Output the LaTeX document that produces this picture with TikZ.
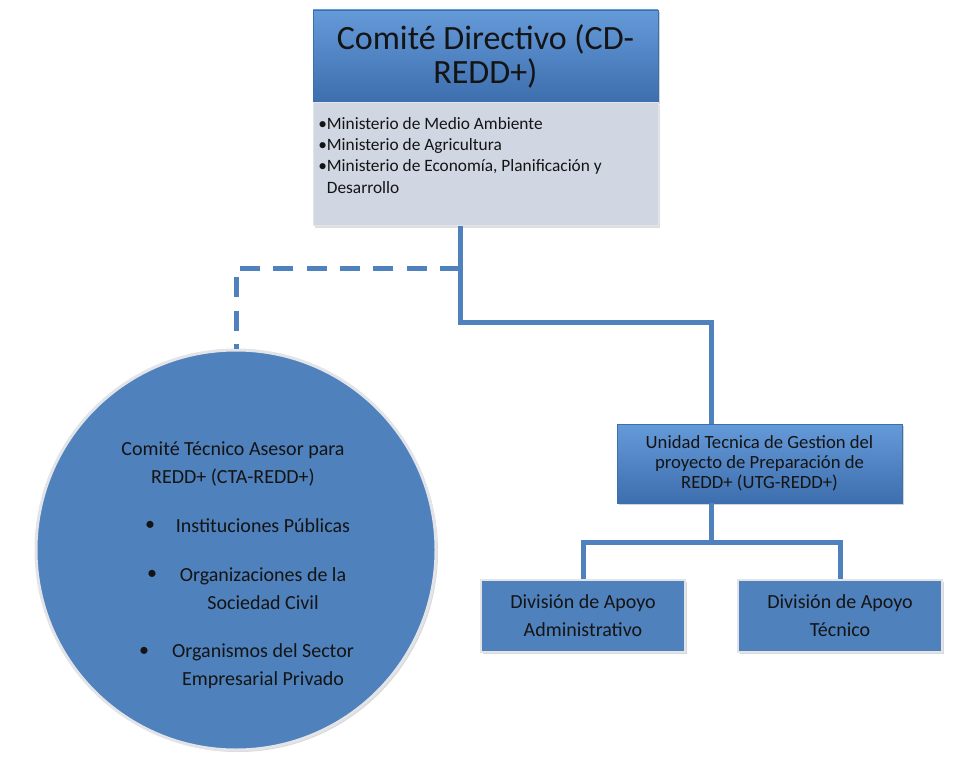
\documentclass[tikz,border=0pt]{standalone}
\usepackage{fontspec}
\setmainfont{Carlito}
\usetikzlibrary{positioning,shadows,calc}
\definecolor{ReddBlue}{HTML}{4F81BD}
\definecolor{ReddBlueLight}{HTML}{659AD9}
\definecolor{ReddBlueDark}{HTML}{3D6EAE}
\definecolor{ReddGray}{HTML}{D0D6E2}
\definecolor{ReddRim}{HTML}{E2E4E8}
\definecolor{ReddInk}{HTML}{141414}

\begin{document}
\begin{tikzpicture}[x=0.75pt,y=-0.75pt,
      text=ReddInk,
      bevel/.style={draw=ReddBlueDark,top color=ReddBlueLight,bottom color=ReddBlueDark,
        drop shadow={opacity=0.35,shadow xshift=1.5pt,shadow yshift=-1.5pt},align=center,inner sep=0pt},
      flatbox/.style={draw=ReddRim,line width=2pt,fill=ReddBlue,minimum width=153pt,minimum height=54pt,
        drop shadow={opacity=0.3,shadow xshift=1.5pt,shadow yshift=-1.5pt},align=center,
        font=\fontsize{15}{21}\selectfont},
      circtxt/.style={align=center,font=\fontsize{15}{21}\selectfont},
      conn/.style={ReddBlue,line width=3.75pt},
      dashconn/.style={conn,dash pattern=on 15pt off 10pt}
    ]
      \useasboundingbox (0,0) rectangle (959,759);
      % top: steering committee
      \node[bevel,minimum width=258.75pt,minimum height=69pt,font=\fontsize{25.5}{25.5}\selectfont] (cd) at (485.5,56) {Comité Directivo (CD-\\REDD+)};
      \node[draw=ReddRim,fill=ReddGray,minimum width=258.75pt,minimum height=92.25pt,anchor=north,
        drop shadow={opacity=0.25,shadow xshift=1.5pt,shadow yshift=-1.5pt}] (mins) at (cd.south) {};
      \node[anchor=north west,inner sep=0pt,align=left,font=\fontsize{13}{16}\selectfont] (minstxt) at (318,117)
        {•Ministerio de Medio Ambiente\\•Ministerio de Agricultura\\•Ministerio de Economía, Planificación y\\\hphantom{•}Desarrollo};
      % advisory committee
      \node[circle,draw=ReddRim,line width=2.25pt,fill=ReddBlue,minimum size=300pt,
        drop shadow={opacity=0.3,shadow xshift=1.5pt,shadow yshift=-1.5pt}] (cta) at (236,550) {};
      \node[circtxt] (ctatitle) at (233,464) {Comité Técnico Asesor para\\REDD+ (CTA-REDD+)};
      \node[circtxt] (item1) at (263,526) {Instituciones Públicas};
      \node[circtxt] (item2) at (263,589) {Organizaciones de la\\Sociedad Civil};
      \node[circtxt] (item3) at (263,666) {Organismos del Sector\\Empresarial Privado};
      \node[circtxt] (dot1) at (150,526) {•};
      \node[circtxt] (dot2) at (152,575) {•};
      \node[circtxt] (dot3) at (144,652) {•};
      % management unit and divisions
      \node[bevel,minimum width=213.75pt,minimum height=59.25pt,font=\fontsize{14}{15}\selectfont] (utg) at (759.5,463.5)
        {Unidad Tecnica de Gestion del\\proyecto de Preparación de\\REDD+ (UTG-REDD+)};
      \node[flatbox] (adm) at (583,616) {División de Apoyo\\Administrativo};
      \node[flatbox] (tec) at (840,616) {División de Apoyo\\Técnico};
      \coordinate (hub) at (460,268);
      \coordinate (bend) at (711,322);
      \coordinate (fork) at (711,542);
      \draw[dashconn] (hub) -| (cta.north);
      \draw[conn] (mins.south -| hub) |- (bend) -- (bend |- utg.north);
      \draw[conn] (utg.south -| fork) -- (fork);
      \draw[conn] (adm.north) |- (fork) -| (tec.north);
    \end{tikzpicture}
\end{document}
